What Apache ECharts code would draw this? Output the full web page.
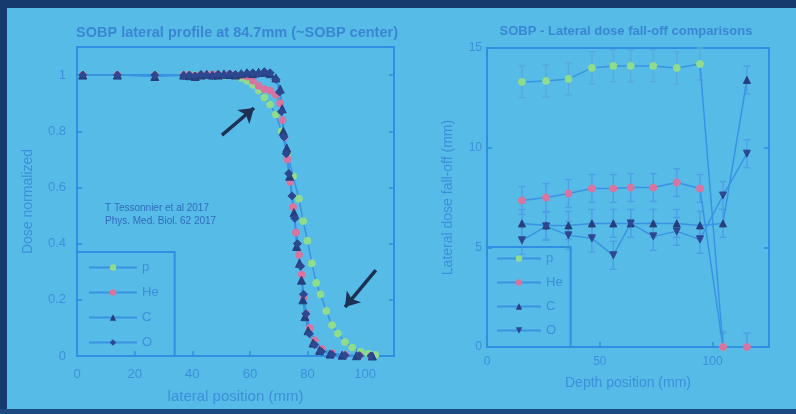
<!DOCTYPE html>
<html><head><meta charset="utf-8">
<script src="https://cdn.jsdelivr.net/npm/echarts@6/dist/echarts.min.js"></script>
<style>html,body{margin:0;padding:0;background:#57bbe8}#c{width:796px;height:414px}</style>
</head><body><div id="c"></div>
<script>
// ---------- Left chart: lateral profile (x mm, normalized dose) ----------
const leftP = [[2,1],[14,1],[27,1],[37,1],[39,1],[41,1],[43,0.998],[45,1],[47,1],[49,1],[51,0.998],[53,1],[55,0.995],[57,0.99],[59,0.98],[61,0.965],[63,0.945],[65,0.92],[67,0.895],[69,0.86],[71,0.8],[73,0.72],[75,0.64],[77,0.56],[78.5,0.48],[80,0.41],[81.5,0.33],[83,0.26],[84.5,0.22],[86.5,0.16],[88.5,0.11],[90.5,0.08],[93,0.05],[95.5,0.03],[98.5,0.015],[101,0.008],[103.5,0.004]];
const leftHe = [[2,1],[14,1],[27,1],[37,1],[39,1],[41,0.998],[43,1],[45,1],[47,1.002],[49,1],[51,1],[53,1.003],[55,1],[57,1],[59,0.995],[61,0.98],[63,0.962],[65,0.95],[67,0.945],[69,0.93],[70.5,0.9],[71.3,0.84],[72,0.78],[73,0.7],[74,0.62],[75,0.53],[76,0.44],[77,0.36],[78,0.29],[78.8,0.21],[79.6,0.15],[80.8,0.1],[82.5,0.055],[85,0.025],[88.5,0.01],[93,0.004],[98,0.002],[102,0]];
const leftC = [[2,1],[14,1],[27,0.995],[37,1],[39,0.998],[41,0.995],[43,1],[45,1.003],[47,1],[49,1],[51,1.004],[53,1.002],[55,1],[57,1.005],[59,1.008],[61,1.005],[63,1.01],[65,1.01],[67,1.005],[69,0.99],[70.5,0.95],[71.2,0.88],[71.6,0.8],[72.8,0.74],[73.8,0.64],[75.3,0.51],[76.2,0.39],[77.2,0.33],[77.9,0.27],[78.4,0.2],[79.1,0.14],[80.2,0.09],[81.9,0.046],[84.2,0.02],[87.8,0.007],[92,0.003],[97,0.001],[102.5,0]];
const leftO = [[2,1],[14,1],[27,1],[37,0.998],[39,1],[41,0.997],[43,1.002],[45,1],[47,0.998],[49,1.003],[51,1],[53,1.004],[55,1.002],[57,1.003],[59,1.006],[61,1.008],[63,1.006],[65,1.012],[67,1.008],[69,0.985],[70.3,0.94],[70.9,0.87],[71.8,0.78],[72.6,0.72],[73.5,0.65],[74.6,0.57],[75.6,0.49],[76.5,0.4],[77.6,0.32],[78.6,0.22],[79.4,0.15],[80.6,0.08],[82.4,0.04],[84.8,0.016],[88.5,0.005],[93,0.002],[98,0.001],[102,0]];
const arrowA = [[50.3,0.786],[61.4,0.883]];
const arrowB = [[103.7,0.306],[93.0,0.174]];

// ---------- Right chart: lateral dose fall-off vs depth ----------
const rightX  = [15.5, 26.2, 36.1, 46.5, 56.0, 63.7, 73.7, 84.1, 94.4, 104.6, 115.2];
const rightP  = [13.3, 13.35, 13.45, 14.0, 14.1, 14.1, 14.1, 14.0, 14.2, 0];
const rightHe = [7.35, 7.5, 7.7, 7.95, 7.95, 8.0, 8.0, 8.25, 7.95, 0, 0];
const rightC  = [6.2, 6.1, 6.1, 6.2, 6.2, 6.2, 6.2, 6.2, 6.1, 6.2, 13.4];
const rightO  = [5.35, 6.05, 5.6, 5.45, 4.6, 6.2, 5.55, 5.8, 5.4, 7.6, 9.7];
const errP = 0.8, errIon = 0.7;

const leftTicksX = {min:0, max:110, interval:20};
const leftTicksY = {min:0, max:1.1, interval:0.2};
const rightTicksX = {min:0, max:125, interval:50};
const rightTicksY = {min:0, max:15, interval:5};

// ---------- styling ----------
const FONT = 'Liberation Sans';
const FRAME = '#2f8fe0';
const LABEL = '#3c8fd8';
const LINE = '#3a92e2';
const COLS = {p:'#8edc8c', He:'#d9749f', C:'#263f7c', O:'#2c4890'};

const chart = echarts.init(document.getElementById('c'), null, {renderer:'canvas'});

function pairs(xs, ys){ return ys.map((y,i)=>[xs[i], y]); }
function errData(xs, ys, e){ return ys.map((y,i)=>[xs[i], y, e]); }
function errRender(color){
  return function(params, api){
    const x = api.value(0), y = api.value(1), e = api.value(2);
    const top = api.coord([x, y + e]);
    const lowV = y - e;
    const bot = api.coord([x, Math.max(0, lowV)]);
    const w = 3.5, st = {stroke: color, lineWidth: 1.4};
    const ch = [
      {type:'line', shape:{x1:top[0], y1:top[1], x2:bot[0], y2:bot[1]}, style:st},
      {type:'line', shape:{x1:top[0]-w, y1:top[1], x2:top[0]+w, y2:top[1]}, style:st}
    ];
    if (lowV >= 0) ch.push({type:'line', shape:{x1:bot[0]-w, y1:bot[1], x2:bot[0]+w, y2:bot[1]}, style:st});
    return {type:'group', children: ch};
  };
}

function valAxis(gi, ext, opts){
  return Object.assign({
    type:'value', gridIndex: gi, min: ext.min, max: ext.max, interval: ext.interval,
    axisLine:{show:false}, splitLine:{show:false},
    axisTick:{show:true, inside:true, length:5, lineStyle:{color:FRAME, width:1.5}},
    axisLabel:{show:true, color:LABEL, fontFamily:FONT, fontSize:12, showMaxLabel:false}
  }, opts);
}

function lineSeries(name, data, xi, yi, symbol, color, size, extra){
  return Object.assign({
    name, type:'line', xAxisIndex:xi, yAxisIndex:yi, data,
    symbol, symbolSize:size, showSymbol:true,
    lineStyle:{color:LINE, width:1.5},
    itemStyle:{color:color, borderColor:color},
    emphasis:{disabled:true}, z:3
  }, extra || {});
}

const option = {
  animation:false,
  backgroundColor:'#57bbe8',
  title:[
    {text:'SOBP lateral profile at 84.7mm (~SOBP center)', left:237, top:25, textAlign:'center', padding:0,
     textStyle:{color:'#3a86d2', fontFamily:FONT, fontSize:14.5, fontWeight:'bold'}},
    {text:'SOBP - Lateral dose fall-off comparisons', left:626, top:25, textAlign:'center', padding:0,
     textStyle:{color:'#3a86d2', fontFamily:FONT, fontSize:13, fontWeight:'bold'}}
  ],
  grid:[
    {left:77, top:47, width:317, height:309, show:true, borderColor:FRAME, borderWidth:2, backgroundColor:'transparent'},
    {left:487, top:48, width:282, height:299, show:true, borderColor:FRAME, borderWidth:2, backgroundColor:'transparent'}
  ],
  xAxis:[
    valAxis(0, leftTicksX, {name:'lateral position (mm)', nameLocation:'middle', nameGap:33,
      nameTextStyle:{color:LABEL, fontFamily:FONT, fontSize:15},
      axisLabel:{color:LABEL, fontFamily:FONT, fontSize:13, margin:12, showMaxLabel:false}}),
    valAxis(1, rightTicksX, {name:'Depth position (mm)', nameLocation:'middle', nameGap:29,
      nameTextStyle:{color:LABEL, fontFamily:FONT, fontSize:14},
      axisLabel:{color:LABEL, fontFamily:FONT, fontSize:12, margin:9, showMaxLabel:false}})
  ],
  yAxis:[
    valAxis(0, leftTicksY, {name:'Dose normalized', nameLocation:'middle', nameGap:42, nameRotate:90,
      nameTextStyle:{color:LABEL, fontFamily:FONT, fontSize:14},
      axisLabel:{color:LABEL, fontFamily:FONT, fontSize:13, margin:11, showMaxLabel:false}}),
    valAxis(1, rightTicksY, {name:'Lateral dose fall-off (mm)', nameLocation:'middle', nameGap:32, nameRotate:90,
      nameTextStyle:{color:LABEL, fontFamily:FONT, fontSize:14},
      axisLabel:{color:LABEL, fontFamily:FONT, fontSize:12, margin:5, showMaxLabel:true}}),
    valAxis(0, leftTicksY, {position:'right', axisLabel:{show:false}}),
    valAxis(1, rightTicksY, {position:'right', axisLabel:{show:false}})
  ],
  legend:[
    {data:['p','He','C','O'], orient:'vertical', left:77, top:252, padding:[9,16,7,11],
     itemWidth:48, itemHeight:8, itemGap:12, borderColor:FRAME, borderWidth:2, selectedMode:false,
     textStyle:{color:LABEL, fontFamily:FONT, fontSize:13}},
    {data:['p_r','He_r','C_r','O_r'], orient:'vertical', left:487, top:247, padding:[5,8,10,9],
     itemWidth:44, itemHeight:8, itemGap:11, borderColor:FRAME, borderWidth:2, selectedMode:false,
     formatter: n => n.replace('_r',''),
     textStyle:{color:LABEL, fontFamily:FONT, fontSize:13}}
  ],
  graphic:[
    {type:'rect', left:0, top:0, shape:{width:796, height:8}, style:{fill:'#173a6e'}, silent:true},
    {type:'rect', left:0, top:0, shape:{width:7, height:414}, style:{fill:'#173a6e'}, silent:true},
    {type:'rect', left:0, top:409, shape:{width:796, height:5}, style:{fill:'#1d4a80'}, silent:true},
    {type:'text', left:105, top:202, style:{text:'T Tessonnier et al 2017\nPhys. Med. Biol. 62 2017', fill:'#2f6cbc', font:'10px "Liberation Sans"', lineHeight:13}, silent:true}
  ],
  series:[
    lineSeries('p', leftP, 0, 0, 'circle', COLS.p, 7),
    lineSeries('He', leftHe, 0, 0, 'circle', COLS.He, 7),
    lineSeries('C', leftC, 0, 0, 'triangle', COLS.C, 8),
    lineSeries('O', leftO, 0, 0, 'diamond', COLS.O, 8, {
      markLine:{silent:true, symbol:['none','arrow'], symbolSize:14, label:{show:false},
        lineStyle:{color:'#1d3154', width:3.5, type:'solid'}, emphasis:{disabled:true},
        data:[
          [{coord:arrowA[0]},{coord:arrowA[1]}],
          [{coord:arrowB[0]},{coord:arrowB[1]}]
        ]}
    }),
    {name:'p err', type:'custom', xAxisIndex:1, yAxisIndex:1, renderItem:errRender('#5aa9dc'), data:errData(rightX, rightP, errP), z:2, silent:true},
    {name:'He err', type:'custom', xAxisIndex:1, yAxisIndex:1, renderItem:errRender('#4f9fe4'), data:errData(rightX, rightHe, errIon), z:2, silent:true},
    {name:'C err', type:'custom', xAxisIndex:1, yAxisIndex:1, renderItem:errRender('#4f9fe4'), data:errData(rightX, rightC, errIon), z:2, silent:true},
    {name:'O err', type:'custom', xAxisIndex:1, yAxisIndex:1, renderItem:errRender('#4f9fe4'), data:errData(rightX, rightO, errIon), z:2, silent:true},
    lineSeries('p_r', pairs(rightX, rightP), 1, 1, 'circle', COLS.p, 7),
    lineSeries('He_r', pairs(rightX, rightHe), 1, 1, 'circle', COLS.He, 7),
    lineSeries('C_r', pairs(rightX, rightC), 1, 1, 'triangle', COLS.C, 7),
    lineSeries('O_r', pairs(rightX, rightO), 1, 1, 'triangle', COLS.O, 7, {symbolRotate:180})
  ]
};
chart.setOption(option);
</script>
</body></html>
